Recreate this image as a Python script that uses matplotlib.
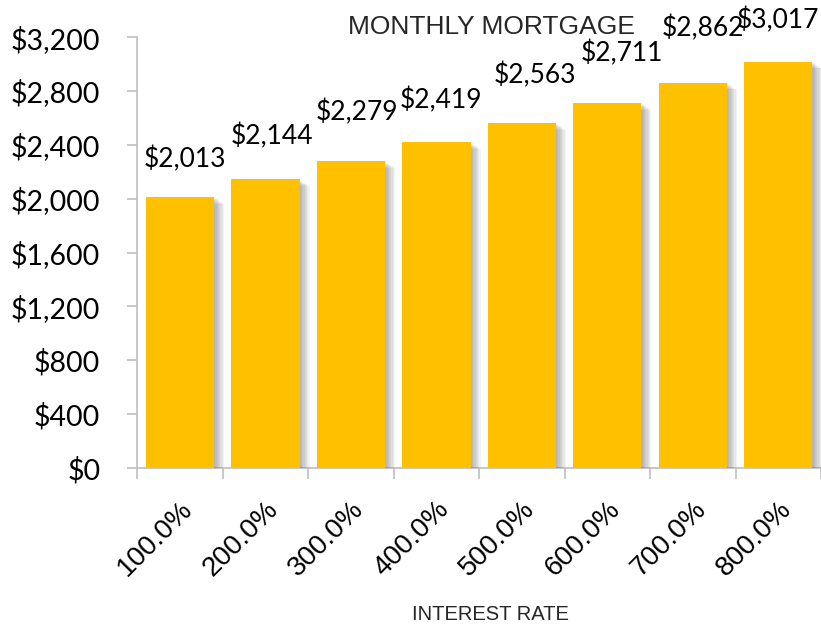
import numpy as np
import matplotlib
matplotlib.use("Agg")
import matplotlib.pyplot as plt
import matplotlib.patheffects as pe
from matplotlib.ticker import FuncFormatter, FixedLocator

# chart data
rates = ["100.0%", "200.0%", "300.0%", "400.0%", "500.0%", "600.0%", "700.0%", "800.0%"]
payments = [2013, 2144, 2279, 2419, 2563, 2711, 2862, 3017]
y_ticks = [0, 400, 800, 1200, 1600, 2000, 2400, 2800, 3200]

bar_color = "#FFC000"
axis_color = "#BFBFBF"

fig = plt.figure(figsize=(8.21, 6.28), dpi=100)
ax = fig.add_axes([0.167, 0.2548, 0.833, 0.686])

x = np.arange(len(rates))
bars = ax.bar(x, payments, width=0.8, color=bar_color, zorder=3)
# soft drop shadow, like the spreadsheet one
shadow = [pe.SimplePatchShadow(offset=(k * 0.9, -k * 0.6), shadow_rgbFace="#606060", alpha=0.07)
          for k in range(1, 9)]
for b in bars:
    b.set_path_effects(shadow + [pe.Normal()])

# data labels (the original ones are nudged a bit, offsets in pixels)
label_dx = [5, 7, 6, 5, 13, 15, 10, 0]
label_dy = [38, 43, 49, 42, 48, 50, 54, 42]
for xi, v, dx, dy in zip(x, payments, label_dx, label_dy):
    ax.annotate("${:,}".format(v), (xi, v), xytext=(dx, dy), textcoords="offset pixels",
                ha="center", va="center", fontsize=19, family="Lato", color="black",
                annotation_clip=False, zorder=5)

ax.set_xlim(-0.5, len(rates) - 0.5)
ax.set_ylim(0, 3200)
ax.set_yticks(y_ticks)
ax.yaxis.set_major_formatter(FuncFormatter(lambda v, p: "${:,.0f}".format(v)))
ax.set_xticks(x)
ax.set_xticklabels(rates, rotation=45, ha="right", rotation_mode="anchor",
                   fontsize=20, family="Liberation Sans")
ax.xaxis.set_minor_locator(FixedLocator(np.arange(-0.5, len(rates), 1.0)))
ax.tick_params(axis="x", which="major", length=0, pad=20)
ax.tick_params(axis="x", which="minor", length=8, color=axis_color, width=1.2)
ax.tick_params(axis="y", length=7.5, color=axis_color, width=1.2, labelsize=20.5, pad=19)
for lbl in ax.get_yticklabels():
    lbl.set_family("Lato")

for s in ["top", "right"]:
    ax.spines[s].set_visible(False)
for s in ["left", "bottom"]:
    ax.spines[s].set_color(axis_color)
    ax.spines[s].set_linewidth(1.2)

fig.text(0.599, 0.957, "MONTHLY MORTGAGE", ha="center", va="center",
         fontsize=19, family="Liberation Sans", color="#262626")
fig.text(0.597, 0.021, "INTEREST RATE", ha="center", va="center",
         fontsize=14.5, family="Liberation Sans", color="#262626")

fig.savefig("out.png", dpi=100)
